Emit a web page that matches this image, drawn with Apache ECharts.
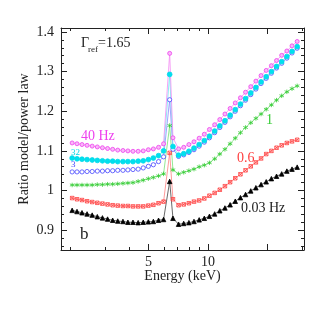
<!DOCTYPE html>
<html>
<head>
<meta charset="utf-8">
<script src="https://cdn.jsdelivr.net/npm/echarts@6/dist/echarts.min.js"></script>
<style>
html, body { margin: 0; padding: 0; background: #fff; }
#chart { width: 332px; height: 332px; }
</style>
</head>
<body>
<div id="chart"></div>
<script>
// energy grid (keV)
var energy = [2.05, 2.17, 2.30, 2.44, 2.59, 2.75, 2.92, 3.10, 3.29, 3.49, 3.71, 3.93, 4.17, 4.43, 4.70, 4.99, 5.29, 5.62, 5.96,
  6.40, 6.65,
  7.10, 7.54, 8.01, 8.50, 9.03, 9.59, 10.18, 10.82, 11.49, 12.20, 12.96, 13.76, 14.62, 15.52, 16.49, 17.51, 18.60, 19.75,
  20.98, 22.28, 23.66, 25.13, 26.69, 28.35];

// ratio model / power law for each frequency
var hz40 = [1.120, 1.118, 1.116, 1.114, 1.112, 1.110, 1.108, 1.106, 1.104, 1.102, 1.101, 1.100, 1.099, 1.099, 1.100, 1.103, 1.105, 1.109, 1.118,
  1.346, 1.133,
  1.105, 1.109, 1.116, 1.123, 1.132, 1.142, 1.154, 1.166, 1.179, 1.193, 1.207, 1.221, 1.234, 1.248, 1.262, 1.276, 1.290, 1.303,
  1.315, 1.328, 1.341, 1.352, 1.365, 1.376];
var hz32 = [1.082, 1.080, 1.079, 1.078, 1.077, 1.076, 1.075, 1.074, 1.074, 1.073, 1.073, 1.073, 1.073, 1.074, 1.075, 1.078, 1.082, 1.088, 1.100,
  1.293, 1.111,
  1.089, 1.093, 1.099, 1.107, 1.116, 1.126, 1.137, 1.150, 1.163, 1.176, 1.190, 1.204, 1.218, 1.232, 1.246, 1.260, 1.274, 1.287,
  1.300, 1.313, 1.325, 1.338, 1.351, 1.363];
var hz3 = [1.047, 1.047, 1.047, 1.048, 1.048, 1.049, 1.049, 1.050, 1.050, 1.051, 1.051, 1.052, 1.053, 1.054, 1.057, 1.061, 1.065, 1.073, 1.085,
  1.229, 1.104,
  1.086, 1.090, 1.096, 1.103, 1.112, 1.122, 1.133, 1.146, 1.159, 1.172, 1.186, 1.200, 1.214, 1.228, 1.242, 1.256, 1.270, 1.283,
  1.296, 1.309, 1.321, 1.334, 1.347, 1.359];
var hz1 = [1.014, 1.014, 1.014, 1.014, 1.014, 1.015, 1.015, 1.016, 1.016, 1.017, 1.018, 1.019, 1.020, 1.023, 1.026, 1.030, 1.033, 1.037, 1.042,
  1.164, 1.052,
  1.042, 1.046, 1.050, 1.054, 1.060, 1.064, 1.070, 1.080, 1.092, 1.104, 1.118, 1.132, 1.146, 1.159, 1.171, 1.182, 1.193, 1.205,
  1.216, 1.228, 1.239, 1.249, 1.257, 1.264];
var hz06 = [0.981, 0.978, 0.976, 0.973, 0.971, 0.969, 0.967, 0.965, 0.963, 0.962, 0.961, 0.961, 0.960, 0.960, 0.960, 0.962, 0.964, 0.968, 0.972,
  1.095, 0.978,
  0.963, 0.965, 0.968, 0.972, 0.975, 0.980, 0.987, 0.994, 1.002, 1.011, 1.021, 1.031, 1.041, 1.051, 1.061, 1.071, 1.081, 1.092,
  1.100, 1.108, 1.114, 1.120, 1.124, 1.128];
var hz003 = [0.950, 0.947, 0.944, 0.941, 0.938, 0.934, 0.931, 0.928, 0.925, 0.923, 0.922, 0.920, 0.920, 0.919, 0.920, 0.921, 0.922, 0.925, 0.927,
  1.023, 0.930,
  0.915, 0.917, 0.919, 0.922, 0.926, 0.930, 0.935, 0.941, 0.949, 0.956, 0.964, 0.973, 0.982, 0.990, 0.999, 1.007, 1.015, 1.022,
  1.030, 1.036, 1.042, 1.049, 1.054, 1.059];

// ticks
var xMajor = [5, 10, 20];
var xMinor = [2, 3, 4, 6, 7, 8, 9, 30];
var xLabels = [5, 10];
var yMajor = [0.9, 1, 1.1, 1.2, 1.3, 1.4];
var yMinor = [0.86, 0.88, 0.92, 0.94, 0.96, 0.98, 1.02, 1.04, 1.06, 1.08, 1.12, 1.14, 1.16, 1.18,
  1.22, 1.24, 1.26, 1.28, 1.32, 1.34, 1.36, 1.38];

var font = 'Liberation Serif';
var ink = '#222';

function xAx(pos, ticks, len, labels, line) {
  return {
    type: 'log', logBase: 10, min: 1.8, max: 30.7, position: pos,
    axisLine: { show: line, onZero: false, lineStyle: { color: ink, width: 1 } },
    axisTick: { show: true, inside: true, length: len, customValues: ticks, lineStyle: { color: ink } },
    axisLabel: labels ? { show: true, customValues: labels, color: ink, fontFamily: font, fontSize: 14, margin: 5 } : { show: false },
    splitLine: { show: false },
    minorTick: { show: false }
  };
}
function yAx(pos, ticks, len, labels, line) {
  return {
    type: 'value', min: 0.85, max: 1.41, position: pos,
    axisLine: { show: line, onZero: false, lineStyle: { color: ink, width: 1 } },
    axisTick: { show: true, inside: true, length: len, customValues: ticks, lineStyle: { color: ink } },
    axisLabel: labels ? { show: true, customValues: labels, color: ink, fontFamily: font, fontSize: 14, margin: 7 } : { show: false },
    splitLine: { show: false }
  };
}

var xAxes = [
  xAx('bottom', xMajor, 6, xLabels, true),
  xAx('bottom', xMinor, 3, null, false),
  xAx('top', xMajor, 6, null, true),
  xAx('top', xMinor, 3, null, false)
];
xAxes[0].name = 'Energy (keV)';
xAxes[0].nameLocation = 'middle';
xAxes[0].nameGap = 19;
xAxes[0].nameMoveOverlap = false;
xAxes[0].nameTextStyle = { color: ink, fontFamily: font, fontSize: 14 };

var yAxes = [
  yAx('left', yMajor, 6, yMajor, true),
  yAx('left', yMinor, 3, null, false),
  yAx('right', yMajor, 6, null, true),
  yAx('right', yMinor, 3, null, false)
];
yAxes[0].name = 'Ratio model/power law';
yAxes[0].nameLocation = 'middle';
yAxes[0].nameGap = 30;
yAxes[0].nameMoveOverlap = false;
yAxes[0].nameTextStyle = { color: ink, fontFamily: font, fontSize: 14 };

function pts(vals) {
  return energy.map(function (e, i) { return [e, vals[i]]; });
}
function line(name, vals, lineColor, symbol, size, fill, border) {
  return {
    name: name, type: 'line', xAxisIndex: 0, yAxisIndex: 0,
    data: pts(vals),
    symbol: symbol, symbolSize: size, showSymbol: true,
    lineStyle: { color: lineColor, width: 0.8 },
    itemStyle: { color: fill, borderColor: border, borderWidth: 0.8 },
    animation: false
  };
}

var asterisk = 'path://M5,0L5,10M0.7,2.5L9.3,7.5M0.7,7.5L9.3,2.5';
var boxX = 'path://M0,0L10,0L10,10L0,10ZM0,0L10,10M0,10L10,0';

var chart = echarts.init(document.getElementById('chart'), null, { renderer: 'canvas' });
chart.setOption({
  backgroundColor: '#fff',
  animation: false,
  grid: { left: 61, right: 28, top: 28, bottom: 82, containLabel: false },
  xAxis: xAxes,
  yAxis: yAxes,
  series: [
    line('0.03 Hz', hz003, '#444', 'triangle', 4.5, '#000', '#000'),
    line('0.6 Hz', hz06, '#ff8080', boxX, 3.5, 'rgba(255,255,255,0)', '#ff4040'),
    line('1 Hz', hz1, '#77e077', asterisk, 4.5, 'rgba(255,255,255,0)', '#33cc33'),
    line('3 Hz', hz3, '#8a8aff', 'circle', 4.2, '#fff', '#4646ff'),
    line('32 Hz', hz32, '#70e8f0', 'circle', 4.8, '#00e0ee', '#00d8e8'),
    line('40 Hz', hz40, '#f48af4', 'circle', 4, '#f9b8f9', '#ee40ee')
  ],
  graphic: [
    { type: 'text', left: 81, top: 36, style: { text: 'Γ', fontFamily: font, fontSize: 14, fill: ink } },
    { type: 'text', left: 88, top: 45, style: { text: 'ref', fontFamily: font, fontSize: 9, fill: ink } },
    { type: 'text', left: 98, top: 36, style: { text: '=1.65', fontFamily: font, fontSize: 14, fill: ink } },
    { type: 'text', left: 81, top: 129, style: { text: '40 Hz', fontFamily: font, fontSize: 14, fill: '#ee40ee' } },
    { type: 'text', left: 71, top: 148, style: { text: '32', fontFamily: font, fontSize: 9, fill: '#00d8e8' } },
    { type: 'text', left: 71, top: 160, style: { text: '3', fontFamily: font, fontSize: 9, fill: '#4646ff' } },
    { type: 'text', left: 266, top: 113, style: { text: '1', fontFamily: font, fontSize: 14, fill: '#33cc33' } },
    { type: 'text', left: 237, top: 151, style: { text: '0.6', fontFamily: font, fontSize: 14, fill: '#ff4040' } },
    { type: 'text', left: 241, top: 201, style: { text: '0.03 Hz', fontFamily: font, fontSize: 14, fill: ink } },
    { type: 'text', left: 80, top: 226, style: { text: 'b', fontFamily: font, fontSize: 17, fill: ink } }
  ]
});
</script>
</body>
</html>
